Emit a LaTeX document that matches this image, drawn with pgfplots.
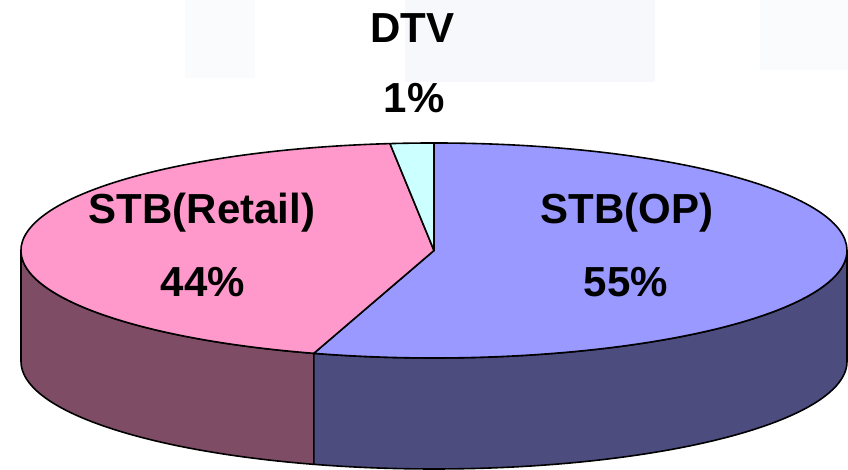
\documentclass[border=0pt]{standalone}
\usepackage{pgfplots}
\usepackage{pgfplotstable}
\pgfplotsset{compat=1.18}
\usepackage{fontspec}
\setmainfont{Liberation Sans}

\definecolor{optop}{HTML}{9999FF}
\definecolor{opside}{HTML}{4C4C7F}
\definecolor{rttop}{HTML}{FF99CC}
\definecolor{rtside}{HTML}{7F4C66}
\definecolor{dtvtop}{HTML}{CCFFFF}
\definecolor{bgfade}{HTML}{F7F8FB}

% share of each slice (percent), clockwise from 12 o'clock
\pgfplotstableread{
label  value
OP     54.7
Retail 43.6
DTV    1.7
}\piedata

\pgfplotstablegetelem{0}{value}\of\piedata \let\vOP\pgfplotsretval
\pgfplotstablegetelem{1}{value}\of\piedata \let\vRT\pgfplotsretval
\pgfplotstablegetelem{2}{value}\of\piedata \let\vDT\pgfplotsretval

\pgfmathsetmacro{\aZero}{90}
\pgfmathsetmacro{\aOne}{90-3.6*\vOP}
\pgfmathsetmacro{\aTwo}{\aOne-3.6*\vRT}
\pgfmathsetmacro{\aThree}{\aTwo-3.6*\vDT}

\def\cx{434}
\def\cy{219.5}
\def\rx{413}
\def\ry{107.5}
\def\dep{111}

\begin{document}
\begin{tikzpicture}
\begin{axis}[
  width=848bp, height=470bp, scale only axis,
  xmin=0, xmax=848, ymin=0, ymax=470,
  enlargelimits=false, hide axis, clip=false,
]
% faint background
\fill[bgfade] (axis cs:405,388) rectangle (axis cs:655,470);
\fill[bgfade!60!white] (axis cs:185,392) rectangle (axis cs:255,470);
\fill[bgfade!60!white] (axis cs:760,400) rectangle (axis cs:848,470);

% side faces (front half)
\fill[rtside, draw=black, line width=1.6bp, line join=round]
  (axis cs:{\cx+\rx*cos(-180)},{\cy+\ry*sin(-180)})
  arc[start angle=-180, end angle=\aOne, x radius=\rx bp, y radius=\ry bp]
  -- ++(0,-\dep bp)
  arc[start angle=\aOne, end angle=-180, x radius=\rx bp, y radius=\ry bp]
  -- cycle;
\fill[opside, draw=black, line width=1.6bp, line join=round]
  (axis cs:{\cx+\rx*cos(\aOne)},{\cy+\ry*sin(\aOne)})
  arc[start angle=\aOne, end angle=0, x radius=\rx bp, y radius=\ry bp]
  -- ++(0,-\dep bp)
  arc[start angle=0, end angle=\aOne, x radius=\rx bp, y radius=\ry bp]
  -- cycle;

% top faces
\fill[optop, draw=black, line width=1.6bp, line join=round]
  (axis cs:\cx,\cy) -- (axis cs:{\cx+\rx*cos(\aZero)},{\cy+\ry*sin(\aZero)})
  arc[start angle=\aZero, end angle=\aOne, x radius=\rx bp, y radius=\ry bp]
  -- cycle;
\fill[rttop, draw=black, line width=1.6bp, line join=round]
  (axis cs:\cx,\cy) -- (axis cs:{\cx+\rx*cos(\aOne)},{\cy+\ry*sin(\aOne)})
  arc[start angle=\aOne, end angle=\aTwo, x radius=\rx bp, y radius=\ry bp]
  -- cycle;
\fill[dtvtop, draw=black, line width=1.6bp, line join=round]
  (axis cs:\cx,\cy) -- (axis cs:{\cx+\rx*cos(\aTwo)},{\cy+\ry*sin(\aTwo)})
  arc[start angle=\aTwo, end angle=\aThree, x radius=\rx bp, y radius=\ry bp]
  -- cycle;

% labels
\tikzset{lbl/.style={anchor=base, inner sep=0pt, font=\bfseries\fontsize{42bp}{50bp}\selectfont}}
\node[lbl] at (axis cs:412.5,427) {DTV};
\node[lbl] at (axis cs:414,357) {1\%};
\node[lbl] at (axis cs:202,246) {STB(Retail)};
\node[lbl] at (axis cs:203,173) {44\%};
\node[lbl] at (axis cs:627,246) {STB(OP)};
\node[lbl] at (axis cs:626,173) {55\%};
\end{axis}
\pgfresetboundingbox
\path[use as bounding box] (current axis.south west) rectangle (current axis.north east);
\end{tikzpicture}
\end{document}
